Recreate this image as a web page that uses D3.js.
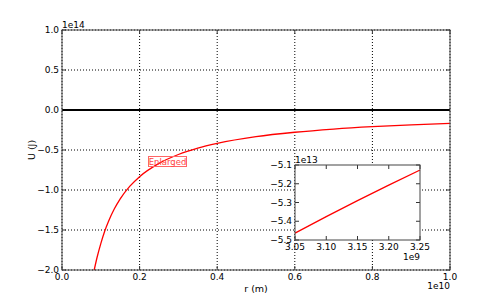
<!DOCTYPE html>
<html>
<head>
<meta charset="utf-8">
<script src="https://cdn.jsdelivr.net/npm/d3@7"></script>
<style>
  body { margin: 0; background: #fff; }
  text { font-family: "DejaVu Sans", sans-serif; fill: #000; }
</style>
</head>
<body>
<div id="chart"></div>
<script>
// data (r in 1e10 m, U in 1e14 J)
const rMain = [0.083, 0.09, 0.1, 0.11, 0.12, 0.135, 0.15, 0.175, 0.2, 0.25, 0.3, 0.35, 0.4, 0.5, 0.6, 0.7, 0.8, 0.9, 1.0];
const uMain = [-2.0, -1.85, -1.67, -1.515, -1.39, -1.235, -1.11, -0.952, -0.833, -0.667, -0.556, -0.476, -0.417, -0.333, -0.278, -0.238, -0.208, -0.185, -0.167];

// inset (r in 1e9 m, U in 1e13 J)
const rInset = [3.05, 3.10, 3.15, 3.20, 3.25];
const uInset = [-5.463, -5.375, -5.290, -5.207, -5.127];

const xTicksMain = [0.0, 0.2, 0.4, 0.6, 0.8, 1.0];
const yTicksMain = [-2.0, -1.5, -1.0, -0.5, 0.0, 0.5, 1.0];
const xTicksInset = [3.05, 3.10, 3.15, 3.20, 3.25];
const yTicksInset = [-5.5, -5.4, -5.3, -5.2, -5.1];

const W = 500, H = 300;
const svg = d3.select("#chart").append("svg")
    .attr("width", W).attr("height", H);

const fmt1 = d => d3.format(".1f")(d).replace("-", "\u2212");
const fmt2 = d => d3.format(".2f")(d).replace("-", "\u2212");

function drawAxes(box, xDom, yDom, xTicks, yTicks, xFmt, yFmt, grid) {
    const x = d3.scaleLinear().domain(xDom).range([box.x0, box.x1]);
    const y = d3.scaleLinear().domain(yDom).range([box.y1, box.y0]);
    const g = svg.append("g");

    // white background
    g.append("rect")
        .attr("x", box.x0).attr("y", box.y0)
        .attr("width", box.x1 - box.x0).attr("height", box.y1 - box.y0)
        .attr("fill", "#fff");

    if (grid) {
        g.selectAll(".gx").data(xTicks).enter().append("line")
            .attr("x1", d => x(d)).attr("x2", d => x(d))
            .attr("y1", box.y0).attr("y2", box.y1)
            .attr("stroke", "#000").attr("stroke-width", 1)
            .attr("stroke-dasharray", "1,2");
        g.selectAll(".gy").data(yTicks).enter().append("line")
            .attr("x1", box.x0).attr("x2", box.x1)
            .attr("y1", d => y(d)).attr("y2", d => y(d))
            .attr("stroke", "#000").attr("stroke-width", 1)
            .attr("stroke-dasharray", "1,2");
    }

    // tick marks pointing in, on all sides
    const tl = 4;
    xTicks.forEach(t => {
        g.append("line").attr("x1", x(t)).attr("x2", x(t))
            .attr("y1", box.y1).attr("y2", box.y1 - tl).attr("stroke", "#333");
        g.append("line").attr("x1", x(t)).attr("x2", x(t))
            .attr("y1", box.y0).attr("y2", box.y0 + tl).attr("stroke", "#333");
        g.append("text").attr("x", x(t)).attr("y", box.y1 + 9.5)
            .attr("text-anchor", "middle").style("font-size", "9px")
            .text(xFmt(t));
    });
    yTicks.forEach(t => {
        g.append("line").attr("x1", box.x0).attr("x2", box.x0 + tl)
            .attr("y1", y(t)).attr("y2", y(t)).attr("stroke", "#333");
        g.append("line").attr("x1", box.x1).attr("x2", box.x1 - tl)
            .attr("y1", y(t)).attr("y2", y(t)).attr("stroke", "#333");
        g.append("text").attr("x", box.x0 - 3).attr("y", y(t) + 3)
            .attr("text-anchor", "end").style("font-size", "9px")
            .text(yFmt(t));
    });
    return { x, y, g };
}

// main axes
const mainBox = { x0: 62, x1: 450, y0: 30, y1: 270 };
const m = drawAxes(mainBox, [0, 1], [-2, 1], xTicksMain, yTicksMain, fmt1, fmt1, true);

// zero line
m.g.append("line")
    .attr("x1", mainBox.x0).attr("x2", mainBox.x1)
    .attr("y1", m.y(0)).attr("y2", m.y(0))
    .attr("stroke", "#000").attr("stroke-width", 2);

const mainData = rMain.map((r, i) => [r, uMain[i]]);
m.g.append("path")
    .datum(mainData)
    .attr("fill", "none").attr("stroke", "red").attr("stroke-width", 1.3)
    .attr("d", d3.line().x(d => m.x(d[0])).y(d => m.y(d[1])).curve(d3.curveMonotoneX));

m.g.append("rect")
    .attr("x", mainBox.x0).attr("y", mainBox.y0)
    .attr("width", mainBox.x1 - mainBox.x0).attr("height", mainBox.y1 - mainBox.y0)
    .attr("fill", "none").attr("stroke", "#444").attr("stroke-width", 1);

// annotation
svg.append("rect")
    .attr("x", 148.5).attr("y", 156.5).attr("width", 38).attr("height", 10)
    .attr("fill", "none").attr("stroke", "#ff6666").attr("stroke-width", 1);
svg.append("text")
    .attr("x", 167.5).attr("y", 165)
    .attr("text-anchor", "middle").style("font-size", "8.5px")
    .style("fill", "#ff4444")
    .text("Enlarged");

// axis labels & offsets
svg.append("text").attr("x", 62).attr("y", 28).style("font-size", "9px").text("1e14");
svg.append("text").attr("x", 450).attr("y", 289).attr("text-anchor", "end")
    .style("font-size", "9px").text("1e10");
svg.append("text").attr("x", 256).attr("y", 292).attr("text-anchor", "middle")
    .style("font-size", "9.5px").text("r (m)");
svg.append("text").attr("transform", "translate(35,150) rotate(-90)")
    .attr("text-anchor", "middle").style("font-size", "9.5px").text("U (J)");

// inset axes
const insetBox = { x0: 295, x1: 420, y0: 165, y1: 240 };
const ins = drawAxes(insetBox, [3.05, 3.25], [-5.5, -5.1], xTicksInset, yTicksInset, fmt2, fmt1, false);
const insetData = rInset.map((r, i) => [r, uInset[i]]);
ins.g.append("path")
    .datum(insetData)
    .attr("fill", "none").attr("stroke", "red").attr("stroke-width", 1.3)
    .attr("d", d3.line().x(d => ins.x(d[0])).y(d => ins.y(d[1])).curve(d3.curveMonotoneX));
ins.g.append("rect")
    .attr("x", insetBox.x0).attr("y", insetBox.y0)
    .attr("width", insetBox.x1 - insetBox.x0).attr("height", insetBox.y1 - insetBox.y0)
    .attr("fill", "none").attr("stroke", "#444").attr("stroke-width", 1);
svg.append("text").attr("x", 295).attr("y", 163).style("font-size", "9px").text("1e13");
svg.append("text").attr("x", 420).attr("y", 260).attr("text-anchor", "end")
    .style("font-size", "9px").text("1e9");
</script>
</body>
</html>
